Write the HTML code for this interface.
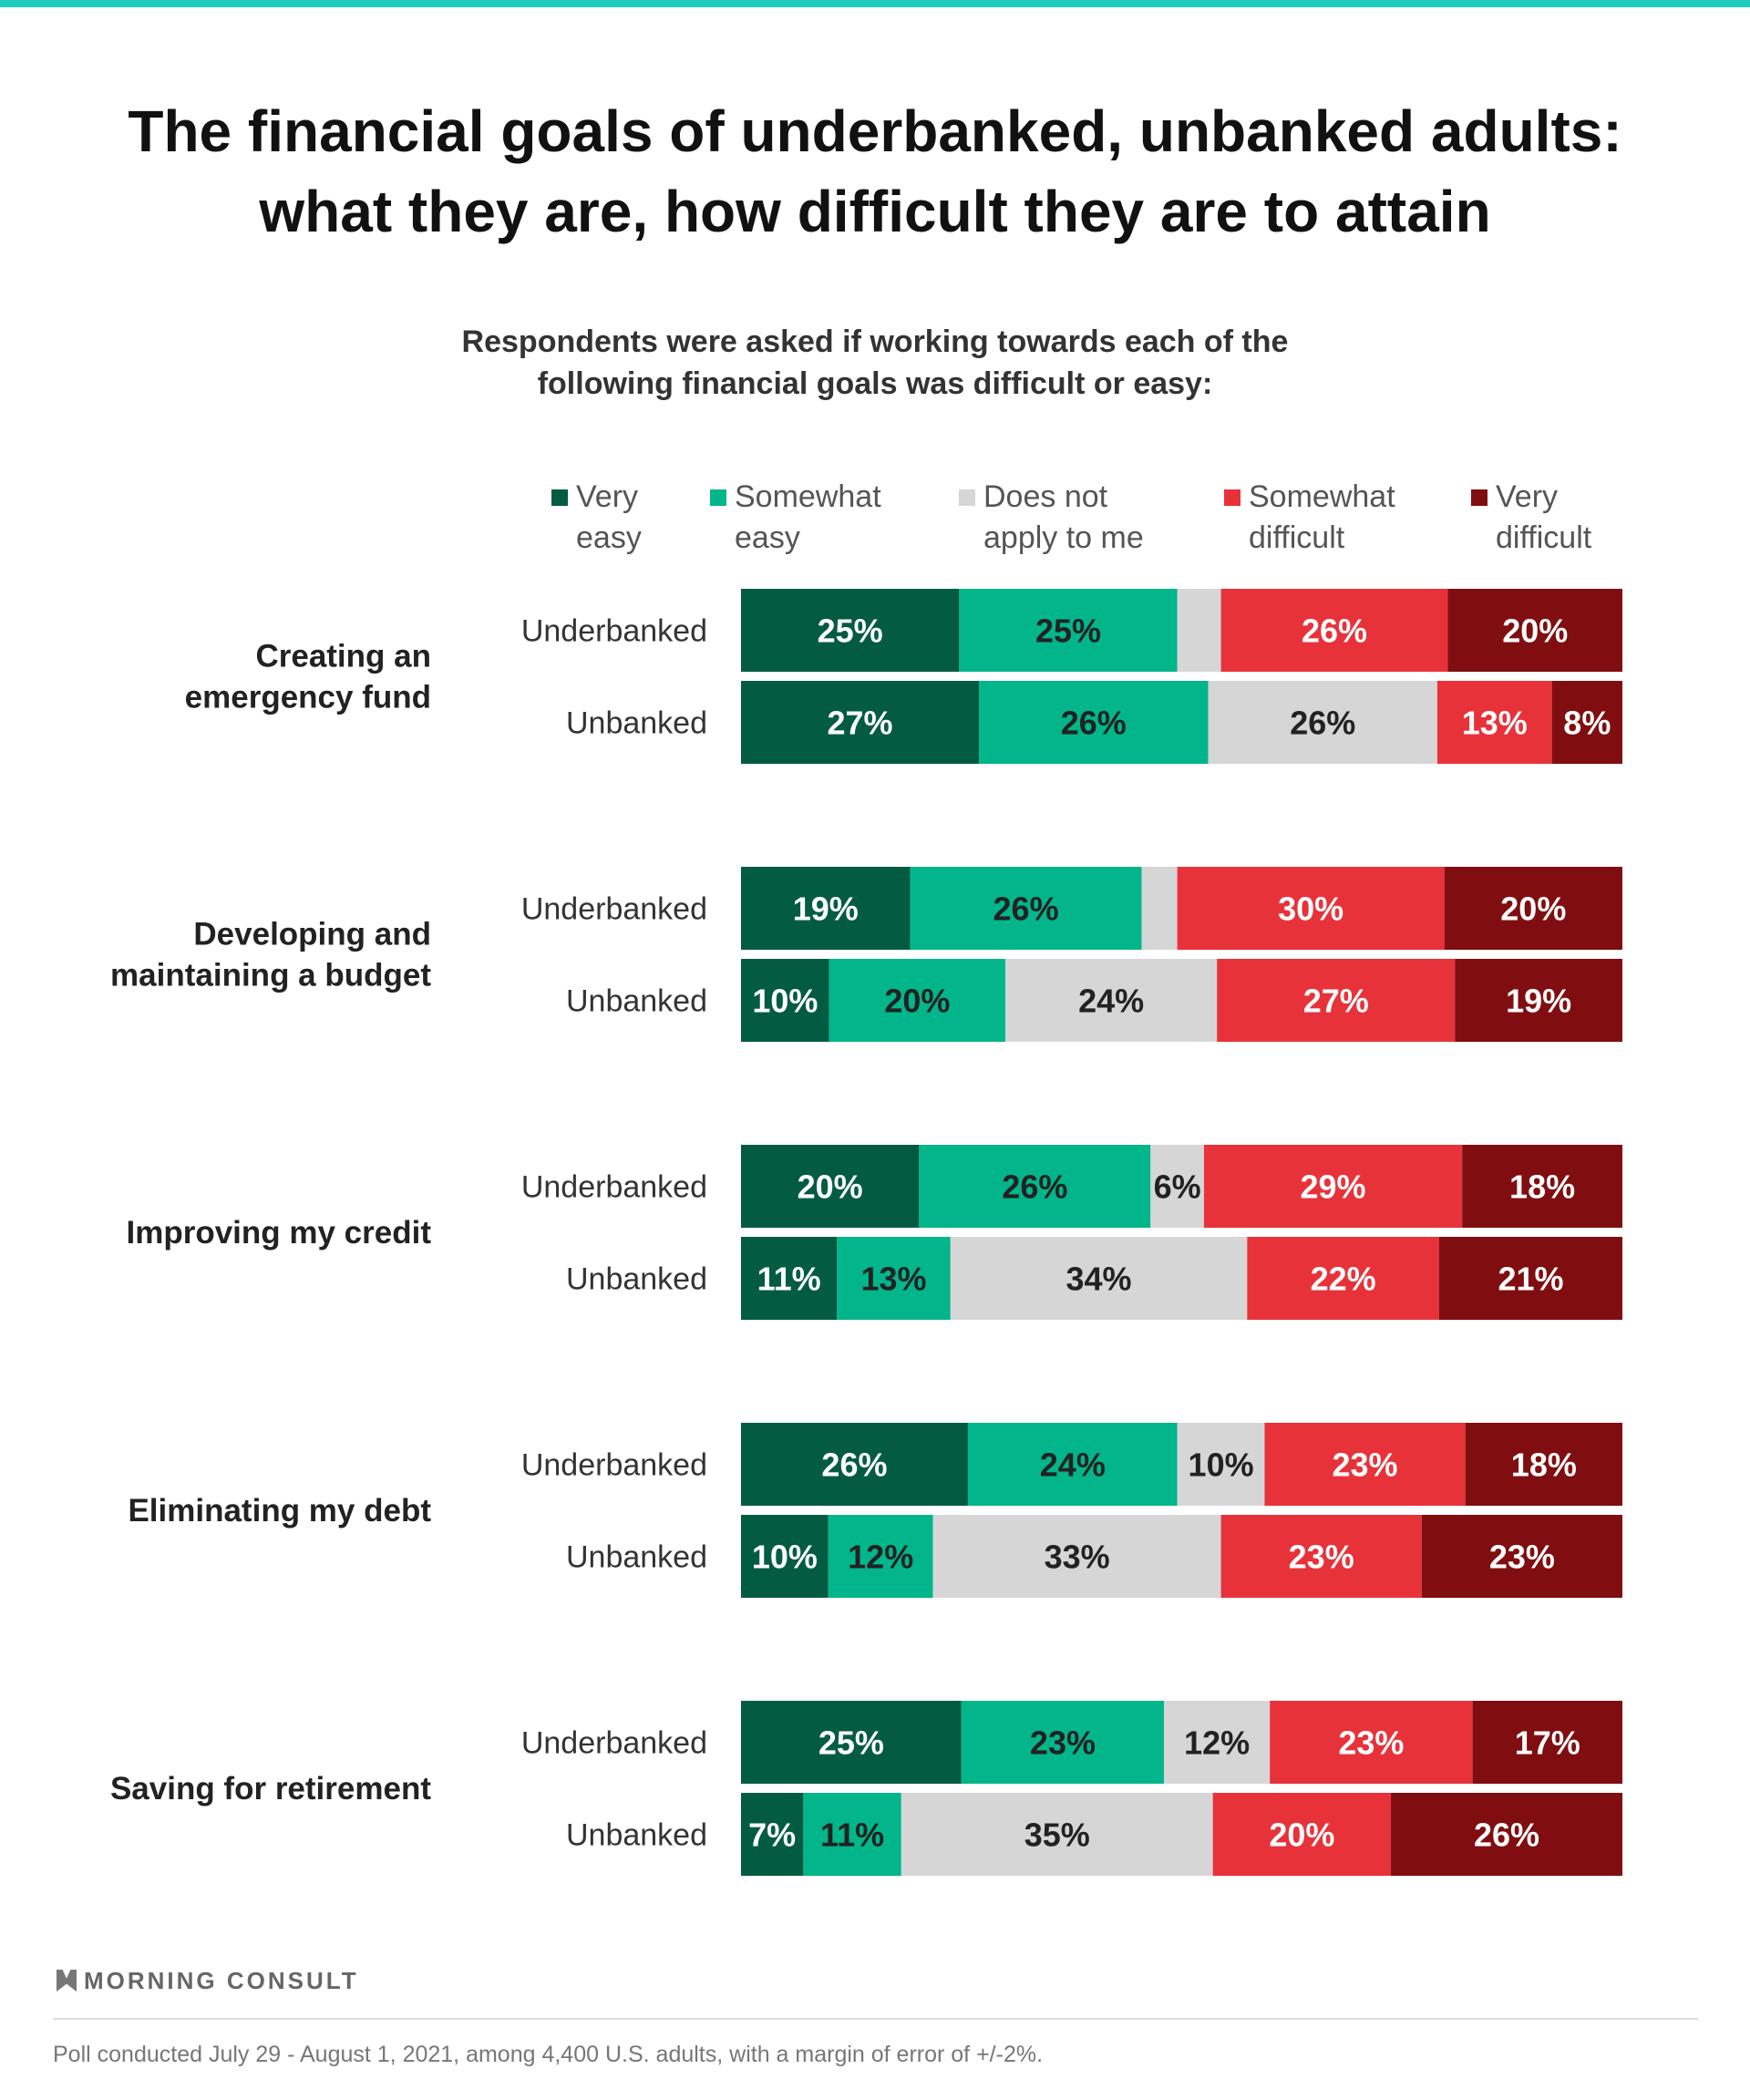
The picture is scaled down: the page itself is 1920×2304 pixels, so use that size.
<!DOCTYPE html>
<html><head><meta charset="utf-8"><style>
body{margin:0;width:1920px;height:2304px;background:#fff;font-family:"Liberation Sans",sans-serif;position:relative;overflow:hidden}
.abs{position:absolute}
</style></head><body>
<div class="abs" style="left:0;top:0;width:1920px;height:8px;background:#1ecbbd"></div>
<div class="abs" style="left:0;top:100px;width:1920px;text-align:center;font-size:64px;font-weight:bold;line-height:88px;color:#111">The financial goals of underbanked, unbanked adults:<br>what they are, how difficult they are to attain</div>
<div class="abs" style="left:0;top:352px;width:1920px;text-align:center;font-size:34px;font-weight:bold;line-height:46px;color:#333">Respondents were asked if working towards each of the<br>following financial goals was difficult or easy:</div>
<svg class="abs" style="left:0;top:0" width="1920" height="2304" id="chart"></svg>
<div class="abs" style="left:62px;top:2158px;font-size:26px;font-weight:bold;color:#666;letter-spacing:3px"><span style="display:inline-block;width:22px;height:24px;vertical-align:-3px;margin-right:8px;background:#777;clip-path:polygon(0 0,30% 0,50% 40%,70% 0,100% 0,100% 100%,50% 65%,0 100%)"></span>MORNING CONSULT</div>
<div class="abs" style="left:58px;top:2214px;width:1805px;height:2px;background:#ddd"></div>
<div class="abs" style="left:58px;top:2240px;font-size:25px;color:#777">Poll conducted July 29 - August 1, 2021, among 4,400 U.S. adults, with a margin of error of +/-2%.</div>
<script>
const categories=["Creating an\nemergency fund","Developing and\nmaintaining a budget","Improving my credit","Eliminating my debt","Saving for retirement"];
const groups=["Underbanked","Unbanked"];
const seriesNames=["Very\neasy","Somewhat\neasy","Does not\napply to me","Somewhat\ndifficult","Very\ndifficult"];
const veryEasy=[[25,27],[19,10],[20,11],[26,10],[25,7]];
const somewhatEasy=[[25,26],[26,20],[26,13],[24,12],[23,11]];
const notApply=[[5,26],[4,24],[6,34],[10,33],[12,35]];
const somewhatDiff=[[26,13],[30,27],[29,22],[23,23],[23,20]];
const veryDiff=[[20,8],[20,19],[18,21],[18,23],[17,26]];
const colors=["#035c41","#03b58a","#d6d6d6","#e8323a","#800e10"];
const textColors=["#fff","#222","#222","#fff","#fff"];
const NS="http://www.w3.org/2000/svg";
const svg=document.getElementById('chart');
const X0=813,X1=1780,G0=646,GSTEP=305,BH=91,RSTEP=101;
function mk(t,a){const e=document.createElementNS(NS,t);for(const k in a)e.setAttribute(k,a[k]);svg.appendChild(e);return e;}
const legX=[605,779,1052,1343,1614];
seriesNames.forEach((n,i)=>{
 const r=mk('rect',{x:legX[i],y:537,width:18,height:18,fill:colors[i]});
 
 
 n.split("\n").forEach((l,j)=>{
  const t=mk('text',{x:legX[i]+27,y:556+j*45,'font-size':34,fill:'#555','font-family':'Liberation Sans, sans-serif'});
  t.textContent=l;
  
  
 });
});
const all=[veryEasy,somewhatEasy,notApply,somewhatDiff,veryDiff];
categories.forEach((c,ci)=>{
 const gy=G0+ci*GSTEP;
 const lines=c.split("\n");
 const cy=gy+(BH*2+10)/2;
 lines.forEach((l,j)=>{
  const t=mk('text',{x:473,y:cy+12+(j-(lines.length-1)/2)*45,'text-anchor':'end','font-size':35,'font-weight':'bold',fill:'#222','font-family':'Liberation Sans, sans-serif'});
  t.textContent=l;
  
  
 });
 groups.forEach((g,gi)=>{
  const y=gy+gi*RSTEP;
  const lab=mk('text',{x:776,y:y+BH/2+12,'text-anchor':'end','font-size':34,fill:'#333','font-family':'Liberation Sans, sans-serif'});
  lab.textContent=g;
  
  
  const vals=all.map(s=>s[ci][gi]);
  const tot=vals.reduce((a,b)=>a+b,0);
  let x=X0;
  vals.forEach((v,si)=>{
   const w=v/tot*(X1-X0);
   const r=mk('rect',{x:x,y:y,width:w,height:BH,fill:colors[si]});
   
   
   if(!(si==2&&v<6)){
    const t=mk('text',{x:x+w/2,y:y+BH/2+13,'text-anchor':'middle','font-size':36,'font-weight':'bold',fill:textColors[si],'font-family':'Liberation Sans, sans-serif'});
    t.textContent=v+"%";
    
    
   }
   x+=w;
  });
 });
});
</script>
</body></html>
